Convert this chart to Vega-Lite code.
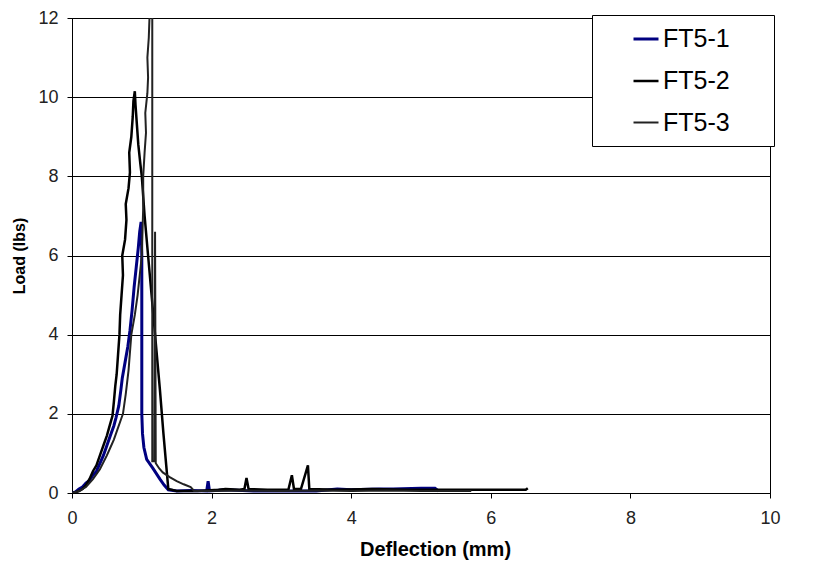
{
  "$schema": "https://vega.github.io/schema/vega-lite/v6.json",
  "width": 698,
  "height": 475,
  "autosize": {"type": "none"},
  "padding": {"left": 72, "top": 18, "right": 50, "bottom": 86},
  "background": "white",
  "config": {
    "view": {"stroke": "black", "strokeWidth": 1},
    "font": "Liberation Sans",
    "axis": {
      "domainColor": "black",
      "tickColor": "black",
      "tickSize": 5,
      "labelFont": "Liberation Sans",
      "labelFontSize": 18,
      "labelColor": "#222222",
      "labelFlush": false,
      "titleFont": "Liberation Sans",
      "titleFontWeight": "bold",
      "titleColor": "black"
    }
  },
  "data": {
    "values": [
      {"series": "FT5-1", "deflection": 0, "load": 0},
      {"series": "FT5-1", "deflection": 0.05, "load": 0.03},
      {"series": "FT5-1", "deflection": 0.1, "load": 0.1},
      {"series": "FT5-1", "deflection": 0.15, "load": 0.15},
      {"series": "FT5-1", "deflection": 0.2, "load": 0.25},
      {"series": "FT5-1", "deflection": 0.25, "load": 0.32},
      {"series": "FT5-1", "deflection": 0.3, "load": 0.45},
      {"series": "FT5-1", "deflection": 0.35, "load": 0.55},
      {"series": "FT5-1", "deflection": 0.4, "load": 0.75},
      {"series": "FT5-1", "deflection": 0.45, "load": 0.95},
      {"series": "FT5-1", "deflection": 0.5, "load": 1.2},
      {"series": "FT5-1", "deflection": 0.55, "load": 1.45},
      {"series": "FT5-1", "deflection": 0.6, "load": 1.7},
      {"series": "FT5-1", "deflection": 0.63, "load": 1.9},
      {"series": "FT5-1", "deflection": 0.67, "load": 2.2},
      {"series": "FT5-1", "deflection": 0.7, "load": 2.6},
      {"series": "FT5-1", "deflection": 0.72, "load": 2.9},
      {"series": "FT5-1", "deflection": 0.76, "load": 3.3},
      {"series": "FT5-1", "deflection": 0.8, "load": 3.7},
      {"series": "FT5-1", "deflection": 0.83, "load": 4.1},
      {"series": "FT5-1", "deflection": 0.86, "load": 4.6},
      {"series": "FT5-1", "deflection": 0.89, "load": 5.2},
      {"series": "FT5-1", "deflection": 0.92, "load": 5.7},
      {"series": "FT5-1", "deflection": 0.95, "load": 6.2},
      {"series": "FT5-1", "deflection": 0.97, "load": 6.6},
      {"series": "FT5-1", "deflection": 0.99, "load": 6.85},
      {"series": "FT5-1", "deflection": 1.0, "load": 6.0},
      {"series": "FT5-1", "deflection": 1.0, "load": 4.0},
      {"series": "FT5-1", "deflection": 1.0, "load": 2.0},
      {"series": "FT5-1", "deflection": 1.01, "load": 1.5},
      {"series": "FT5-1", "deflection": 1.03, "load": 1.15},
      {"series": "FT5-1", "deflection": 1.07, "load": 0.85},
      {"series": "FT5-1", "deflection": 1.16, "load": 0.62},
      {"series": "FT5-1", "deflection": 1.26, "load": 0.35},
      {"series": "FT5-1", "deflection": 1.32, "load": 0.2},
      {"series": "FT5-1", "deflection": 1.38, "load": 0.08},
      {"series": "FT5-1", "deflection": 1.5, "load": 0.05},
      {"series": "FT5-1", "deflection": 1.7, "load": 0.06},
      {"series": "FT5-1", "deflection": 1.93, "load": 0.05},
      {"series": "FT5-1", "deflection": 1.95, "load": 0.3},
      {"series": "FT5-1", "deflection": 1.97, "load": 0.05},
      {"series": "FT5-1", "deflection": 2.2, "load": 0.08},
      {"series": "FT5-1", "deflection": 2.6, "load": 0.05},
      {"series": "FT5-1", "deflection": 3.0, "load": 0.05},
      {"series": "FT5-1", "deflection": 3.5, "load": 0.05},
      {"series": "FT5-1", "deflection": 3.8, "load": 0.1},
      {"series": "FT5-1", "deflection": 4.0, "load": 0.08},
      {"series": "FT5-1", "deflection": 4.4, "load": 0.1},
      {"series": "FT5-1", "deflection": 4.6, "load": 0.1},
      {"series": "FT5-1", "deflection": 5.0, "load": 0.12},
      {"series": "FT5-1", "deflection": 5.2, "load": 0.12},
      {"series": "FT5-1", "deflection": 5.25, "load": 0.05},

      {"series": "FT5-2", "deflection": 0, "load": 0},
      {"series": "FT5-2", "deflection": 0.05, "load": 0.02},
      {"series": "FT5-2", "deflection": 0.1, "load": 0.05},
      {"series": "FT5-2", "deflection": 0.15, "load": 0.1},
      {"series": "FT5-2", "deflection": 0.2, "load": 0.2},
      {"series": "FT5-2", "deflection": 0.25, "load": 0.35},
      {"series": "FT5-2", "deflection": 0.3, "load": 0.55},
      {"series": "FT5-2", "deflection": 0.35, "load": 0.7},
      {"series": "FT5-2", "deflection": 0.4, "load": 0.95},
      {"series": "FT5-2", "deflection": 0.45, "load": 1.2},
      {"series": "FT5-2", "deflection": 0.5, "load": 1.45},
      {"series": "FT5-2", "deflection": 0.54, "load": 1.7},
      {"series": "FT5-2", "deflection": 0.58, "load": 1.95},
      {"series": "FT5-2", "deflection": 0.6, "load": 2.3},
      {"series": "FT5-2", "deflection": 0.62, "load": 2.7},
      {"series": "FT5-2", "deflection": 0.64, "load": 3.0},
      {"series": "FT5-2", "deflection": 0.66, "load": 3.5},
      {"series": "FT5-2", "deflection": 0.68, "load": 4.0},
      {"series": "FT5-2", "deflection": 0.69, "load": 4.5},
      {"series": "FT5-2", "deflection": 0.71, "load": 5.0},
      {"series": "FT5-2", "deflection": 0.73, "load": 5.5},
      {"series": "FT5-2", "deflection": 0.72, "load": 6.0},
      {"series": "FT5-2", "deflection": 0.76, "load": 6.4},
      {"series": "FT5-2", "deflection": 0.78, "load": 6.9},
      {"series": "FT5-2", "deflection": 0.77, "load": 7.3},
      {"series": "FT5-2", "deflection": 0.81, "load": 7.7},
      {"series": "FT5-2", "deflection": 0.83, "load": 8.1},
      {"series": "FT5-2", "deflection": 0.82, "load": 8.6},
      {"series": "FT5-2", "deflection": 0.85, "load": 9.0},
      {"series": "FT5-2", "deflection": 0.87, "load": 9.5},
      {"series": "FT5-2", "deflection": 0.88, "load": 9.9},
      {"series": "FT5-2", "deflection": 0.9, "load": 10.15},
      {"series": "FT5-2", "deflection": 0.91, "load": 9.8},
      {"series": "FT5-2", "deflection": 0.93, "load": 9.3},
      {"series": "FT5-2", "deflection": 0.95, "load": 8.8},
      {"series": "FT5-2", "deflection": 0.98, "load": 8.3},
      {"series": "FT5-2", "deflection": 1.0, "load": 8.0},
      {"series": "FT5-2", "deflection": 1.04, "load": 7.0},
      {"series": "FT5-2", "deflection": 1.09, "load": 6.0},
      {"series": "FT5-2", "deflection": 1.15, "load": 4.8},
      {"series": "FT5-2", "deflection": 1.21, "load": 3.6},
      {"series": "FT5-2", "deflection": 1.26, "load": 2.6},
      {"series": "FT5-2", "deflection": 1.31, "load": 1.5},
      {"series": "FT5-2", "deflection": 1.35, "load": 0.7},
      {"series": "FT5-2", "deflection": 1.38, "load": 0.1},
      {"series": "FT5-2", "deflection": 1.5, "load": 0.05},
      {"series": "FT5-2", "deflection": 1.8, "load": 0.05},
      {"series": "FT5-2", "deflection": 2.1, "load": 0.08},
      {"series": "FT5-2", "deflection": 2.2, "load": 0.1},
      {"series": "FT5-2", "deflection": 2.4, "load": 0.08},
      {"series": "FT5-2", "deflection": 2.47, "load": 0.1},
      {"series": "FT5-2", "deflection": 2.5, "load": 0.38},
      {"series": "FT5-2", "deflection": 2.53, "load": 0.1},
      {"series": "FT5-2", "deflection": 2.8, "load": 0.08},
      {"series": "FT5-2", "deflection": 3.1, "load": 0.08},
      {"series": "FT5-2", "deflection": 3.15, "load": 0.45},
      {"series": "FT5-2", "deflection": 3.18, "load": 0.1},
      {"series": "FT5-2", "deflection": 3.28, "load": 0.1},
      {"series": "FT5-2", "deflection": 3.38, "load": 0.7},
      {"series": "FT5-2", "deflection": 3.4, "load": 0.1},
      {"series": "FT5-2", "deflection": 3.8, "load": 0.08},
      {"series": "FT5-2", "deflection": 4.3, "load": 0.1},
      {"series": "FT5-2", "deflection": 4.8, "load": 0.08},
      {"series": "FT5-2", "deflection": 5.3, "load": 0.08},
      {"series": "FT5-2", "deflection": 5.8, "load": 0.08},
      {"series": "FT5-2", "deflection": 6.3, "load": 0.08},
      {"series": "FT5-2", "deflection": 6.5, "load": 0.08},
      {"series": "FT5-2", "deflection": 6.53, "load": 0.12},

      {"series": "FT5-3", "deflection": 0, "load": 0},
      {"series": "FT5-3", "deflection": 0.1, "load": 0.05},
      {"series": "FT5-3", "deflection": 0.2, "load": 0.15},
      {"series": "FT5-3", "deflection": 0.3, "load": 0.35},
      {"series": "FT5-3", "deflection": 0.4, "load": 0.6},
      {"series": "FT5-3", "deflection": 0.5, "load": 0.95},
      {"series": "FT5-3", "deflection": 0.55, "load": 1.15},
      {"series": "FT5-3", "deflection": 0.6, "load": 1.35},
      {"series": "FT5-3", "deflection": 0.65, "load": 1.6},
      {"series": "FT5-3", "deflection": 0.7, "load": 1.85},
      {"series": "FT5-3", "deflection": 0.73, "load": 2.0},
      {"series": "FT5-3", "deflection": 0.77, "load": 2.5},
      {"series": "FT5-3", "deflection": 0.81, "load": 3.1},
      {"series": "FT5-3", "deflection": 0.85, "load": 4.0},
      {"series": "FT5-3", "deflection": 0.9, "load": 4.5},
      {"series": "FT5-3", "deflection": 0.94, "load": 5.0},
      {"series": "FT5-3", "deflection": 0.97, "load": 5.5},
      {"series": "FT5-3", "deflection": 1.0, "load": 6.0},
      {"series": "FT5-3", "deflection": 1.01, "load": 6.6},
      {"series": "FT5-3", "deflection": 1.02, "load": 7.2},
      {"series": "FT5-3", "deflection": 1.02, "load": 8.0},
      {"series": "FT5-3", "deflection": 1.04, "load": 8.6},
      {"series": "FT5-3", "deflection": 1.06, "load": 9.1},
      {"series": "FT5-3", "deflection": 1.05, "load": 9.6},
      {"series": "FT5-3", "deflection": 1.08, "load": 10.1},
      {"series": "FT5-3", "deflection": 1.09, "load": 10.5},
      {"series": "FT5-3", "deflection": 1.08, "load": 11.0},
      {"series": "FT5-3", "deflection": 1.1, "load": 11.5},
      {"series": "FT5-3", "deflection": 1.11, "load": 12.0},
      {"series": "FT5-3", "deflection": 1.12, "load": 12.6},
      {"series": "FT5-3", "deflection": 1.15, "load": 12.6},
      {"series": "FT5-3", "deflection": 1.15, "load": 0.8},
      {"series": "FT5-3", "deflection": 1.18, "load": 0.8},
      {"series": "FT5-3", "deflection": 1.19, "load": 6.6},
      {"series": "FT5-3", "deflection": 1.2, "load": 0.75},
      {"series": "FT5-3", "deflection": 1.25, "load": 0.62},
      {"series": "FT5-3", "deflection": 1.3, "load": 0.52},
      {"series": "FT5-3", "deflection": 1.4, "load": 0.4},
      {"series": "FT5-3", "deflection": 1.5, "load": 0.3},
      {"series": "FT5-3", "deflection": 1.6, "load": 0.22},
      {"series": "FT5-3", "deflection": 1.7, "load": 0.15},
      {"series": "FT5-3", "deflection": 1.75, "load": 0.05},
      {"series": "FT5-3", "deflection": 2.0, "load": 0.05},
      {"series": "FT5-3", "deflection": 2.5, "load": 0.06},
      {"series": "FT5-3", "deflection": 3.0, "load": 0.05},
      {"series": "FT5-3", "deflection": 3.5, "load": 0.06},
      {"series": "FT5-3", "deflection": 4.0, "load": 0.05},
      {"series": "FT5-3", "deflection": 4.5, "load": 0.06},
      {"series": "FT5-3", "deflection": 5.0, "load": 0.05},
      {"series": "FT5-3", "deflection": 5.5, "load": 0.05},
      {"series": "FT5-3", "deflection": 5.72, "load": 0.05}
    ]
  },
  "mark": {"type": "line", "clip": true},
  "encoding": {
    "x": {
      "field": "deflection",
      "type": "quantitative",
      "scale": {"domain": [0, 10], "nice": false},
      "axis": {
        "title": "Deflection (mm)",
        "values": [0, 2, 4, 6, 8, 10],
        "grid": false,
        "labelPadding": 11,
        "titleFontSize": 20,
        "titlePadding": 12,
        "titleX": 363
      }
    },
    "y": {
      "field": "load",
      "type": "quantitative",
      "scale": {"domain": [0, 12], "nice": false},
      "axis": {
        "title": "Load (lbs)",
        "values": [0, 2, 4, 6, 8, 10, 12],
        "grid": true,
        "gridColor": "black",
        "gridOpacity": 1,
        "gridWidth": 1,
        "labelPadding": 9,
        "titleFontSize": 16,
        "titlePadding": 10
      }
    },
    "color": {
      "field": "series",
      "type": "nominal",
      "scale": {"domain": ["FT5-1", "FT5-2", "FT5-3"], "range": ["#000080", "#000000", "#222222"]},
      "legend": {
        "orient": "none",
        "legendX": 520,
        "legendY": -3,
        "strokeColor": "black",
        "fillColor": "white",
        "padding": 10,
        "symbolOffset": 30,
        "rowPadding": 15,
        "symbolType": "stroke",
        "symbolSize": 625,
        "labelFont": "Liberation Sans",
        "labelFontSize": 25,
        "labelColor": "black",
        "labelOffset": 3,
        "title": "MMM",
        "titleOrient": "right",
        "titleFontSize": 10,
        "titleOpacity": 0,
        "titlePadding": 9
      }
    },
    "strokeWidth": {
      "field": "series",
      "type": "nominal",
      "scale": {"domain": ["FT5-1", "FT5-2", "FT5-3"], "range": [3, 2, 1]},
      "legend": {
        "orient": "none",
        "legendX": 520,
        "legendY": -3,
        "strokeColor": "black",
        "fillColor": "white",
        "padding": 10,
        "symbolOffset": 30,
        "rowPadding": 15,
        "symbolType": "stroke",
        "symbolSize": 625,
        "labelFont": "Liberation Sans",
        "labelFontSize": 25,
        "labelColor": "black",
        "labelOffset": 3,
        "title": "MMM",
        "titleOrient": "right",
        "titleFontSize": 10,
        "titleOpacity": 0,
        "titlePadding": 9
      }
    },
    "order": {"value": null}
  }
}
